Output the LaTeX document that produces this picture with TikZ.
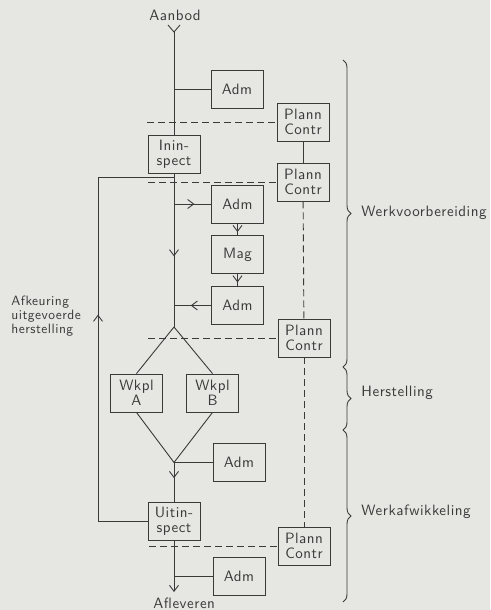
\documentclass[tikz,border=0pt]{standalone}
\usepackage{fontspec}
\usetikzlibrary{arrows.meta,decorations.markings,decorations.pathreplacing}
\definecolor{bgc}{HTML}{E6E6E3}
\definecolor{ink}{HTML}{3A3A3A}
\newfontfamily\handfont{lmsans10-regular.otf}[LetterSpace=3.5]
\newcommand{\hlett}{\handfont\fontsize{15}{15.5}\selectfont}
\newcommand{\hlettsm}{\handfont\fontsize{13.5}{14}\selectfont}
\tikzset{
  box/.style={draw, minimum width=52pt, minimum height=38pt, inner sep=1pt, align=center, font=\hlett},
  lab/.style={font=\hlett, inner sep=0pt},
  midarr/.style={postaction={decorate,decoration={markings,mark=at position #1 with {\arrow{>}}}}},
  dsh/.style={dash pattern=on 7pt off 4pt},
  brc/.style={decorate, decoration={brace, amplitude=8pt}}
}
\begin{document}
\begin{tikzpicture}[x=1pt,y=-1pt, line width=0.9pt, color=ink, >={Straight Barb[length=6pt,width=9pt]}]
\fill[bgc] (0,0) rectangle (490,610);
\useasboundingbox (0,0) rectangle (490,610);

% nodes
\node[lab] (aanbod) at (175,15) {Aanbod};
\node[box] (adm1) at (237,89) {Adm};
\node[box] (pc1) at (303,122) {Plann\\Contr};
\node[box] (inin) at (174,154) {Inin-\\spect};
\node[box] (pc2) at (303,182) {Plann\\Contr};
\node[box] (adm2) at (237.5,204) {Adm};
\node[box] (mag) at (237.5,254.5) {Mag};
\node[box] (adm3) at (237.5,305.5) {Adm};
\node[box] (pc3) at (304,338) {Plann\\Contr};
\node[box] (wka) at (136.5,393) {Wkpl\\A};
\node[box] (wkb) at (212.5,393) {Wkpl\\B};
\node[box] (adm4) at (239,462.5) {Adm};
\node[box] (uit) at (174,521) {Uitin-\\spect};
\node[box] (pc4) at (304,546) {Plann\\Contr};
\node[box] (adm5) at (239,576) {Adm};
\node[lab, anchor=west] (afl) at (153,603) {Afleveren};
\node[font=\hlettsm, anchor=north west, align=left, inner sep=0pt] (afk) at (11,296) {Afkeuring\\uitgevoerde\\herstelling};
\node[lab, anchor=west] (wv) at (361,213) {Werkvoorbereiding};
\node[lab, anchor=west] (hs) at (361,393) {Herstelling};
\node[lab, anchor=west] (wa) at (361,512) {Werkafwikkeling};

% coordinates
\coordinate (top) at (174,32);
\coordinate (j1) at (174,89);
\coordinate (lj) at (174,177);
\coordinate (lt) at (98,177);
\coordinate (lb) at (98,521);
\coordinate (j2) at (174,204);
\coordinate (j3) at (174,305.5);
\coordinate (apex) at (174,327);
\coordinate (bot) at (174,462.5);
\coordinate (j5) at (174,576);
\coordinate (endp) at (174,592);
\coordinate (h1) at (147,122);
\coordinate (h2) at (148,182);
\coordinate (h3) at (148,338);
\coordinate (h4) at (149,546);
\coordinate (b0) at (343,60);
\coordinate (b1) at (343,367);
\coordinate (b2) at (343,430);
\coordinate (b3) at (343,602);

% main line
\draw (top) ++(-6,-7) -- (top) -- ++(6,-7);
\draw (top) -- (inin);
\draw (j1) -- (adm1.west);
\draw[midarr=0.54] (inin) -- (apex);
\draw[midarr=0.55] (j2) -- (adm2.west);
\draw[midarr=0.75] (adm2) -- (mag);
\draw[midarr=0.7] (mag) -- (adm3);
\draw[midarr=0.55] (adm3.west) -- (j3);
\draw (apex) -- (wka.north);
\draw (apex) -- (wkb.north);
\draw (wka.south) -- (bot);
\draw (wkb.south) -- (bot);
\draw (bot) -- (adm4.west);
\draw[midarr=0.4] (bot) -- (uit);
\draw[->] (uit) -- (endp);
\draw (j5) -- (adm5.west);

% feedback loop
\draw (uit.west) -- (lb);
\draw[midarr=0.6] (lb) -- (lt);
\draw (lt) -- (lj);

% planning/control
\draw (pc1) -- (pc2);
\draw[dsh] (pc2) -- (pc3);
\draw[dsh] (pc3) -- (pc4);
\draw[dsh] (h1) -- (pc1.west);
\draw[dsh] (h2) -- (pc2.west);
\draw[dsh] (h3) -- (pc3.west);
\draw[dsh] (h4) -- (pc4.west);

% braces
\draw[brc] (b0) -- (b1);
\draw[brc] (b1) -- (b2);
\draw[brc] (b2) -- (b3);
\end{tikzpicture}
\end{document}
